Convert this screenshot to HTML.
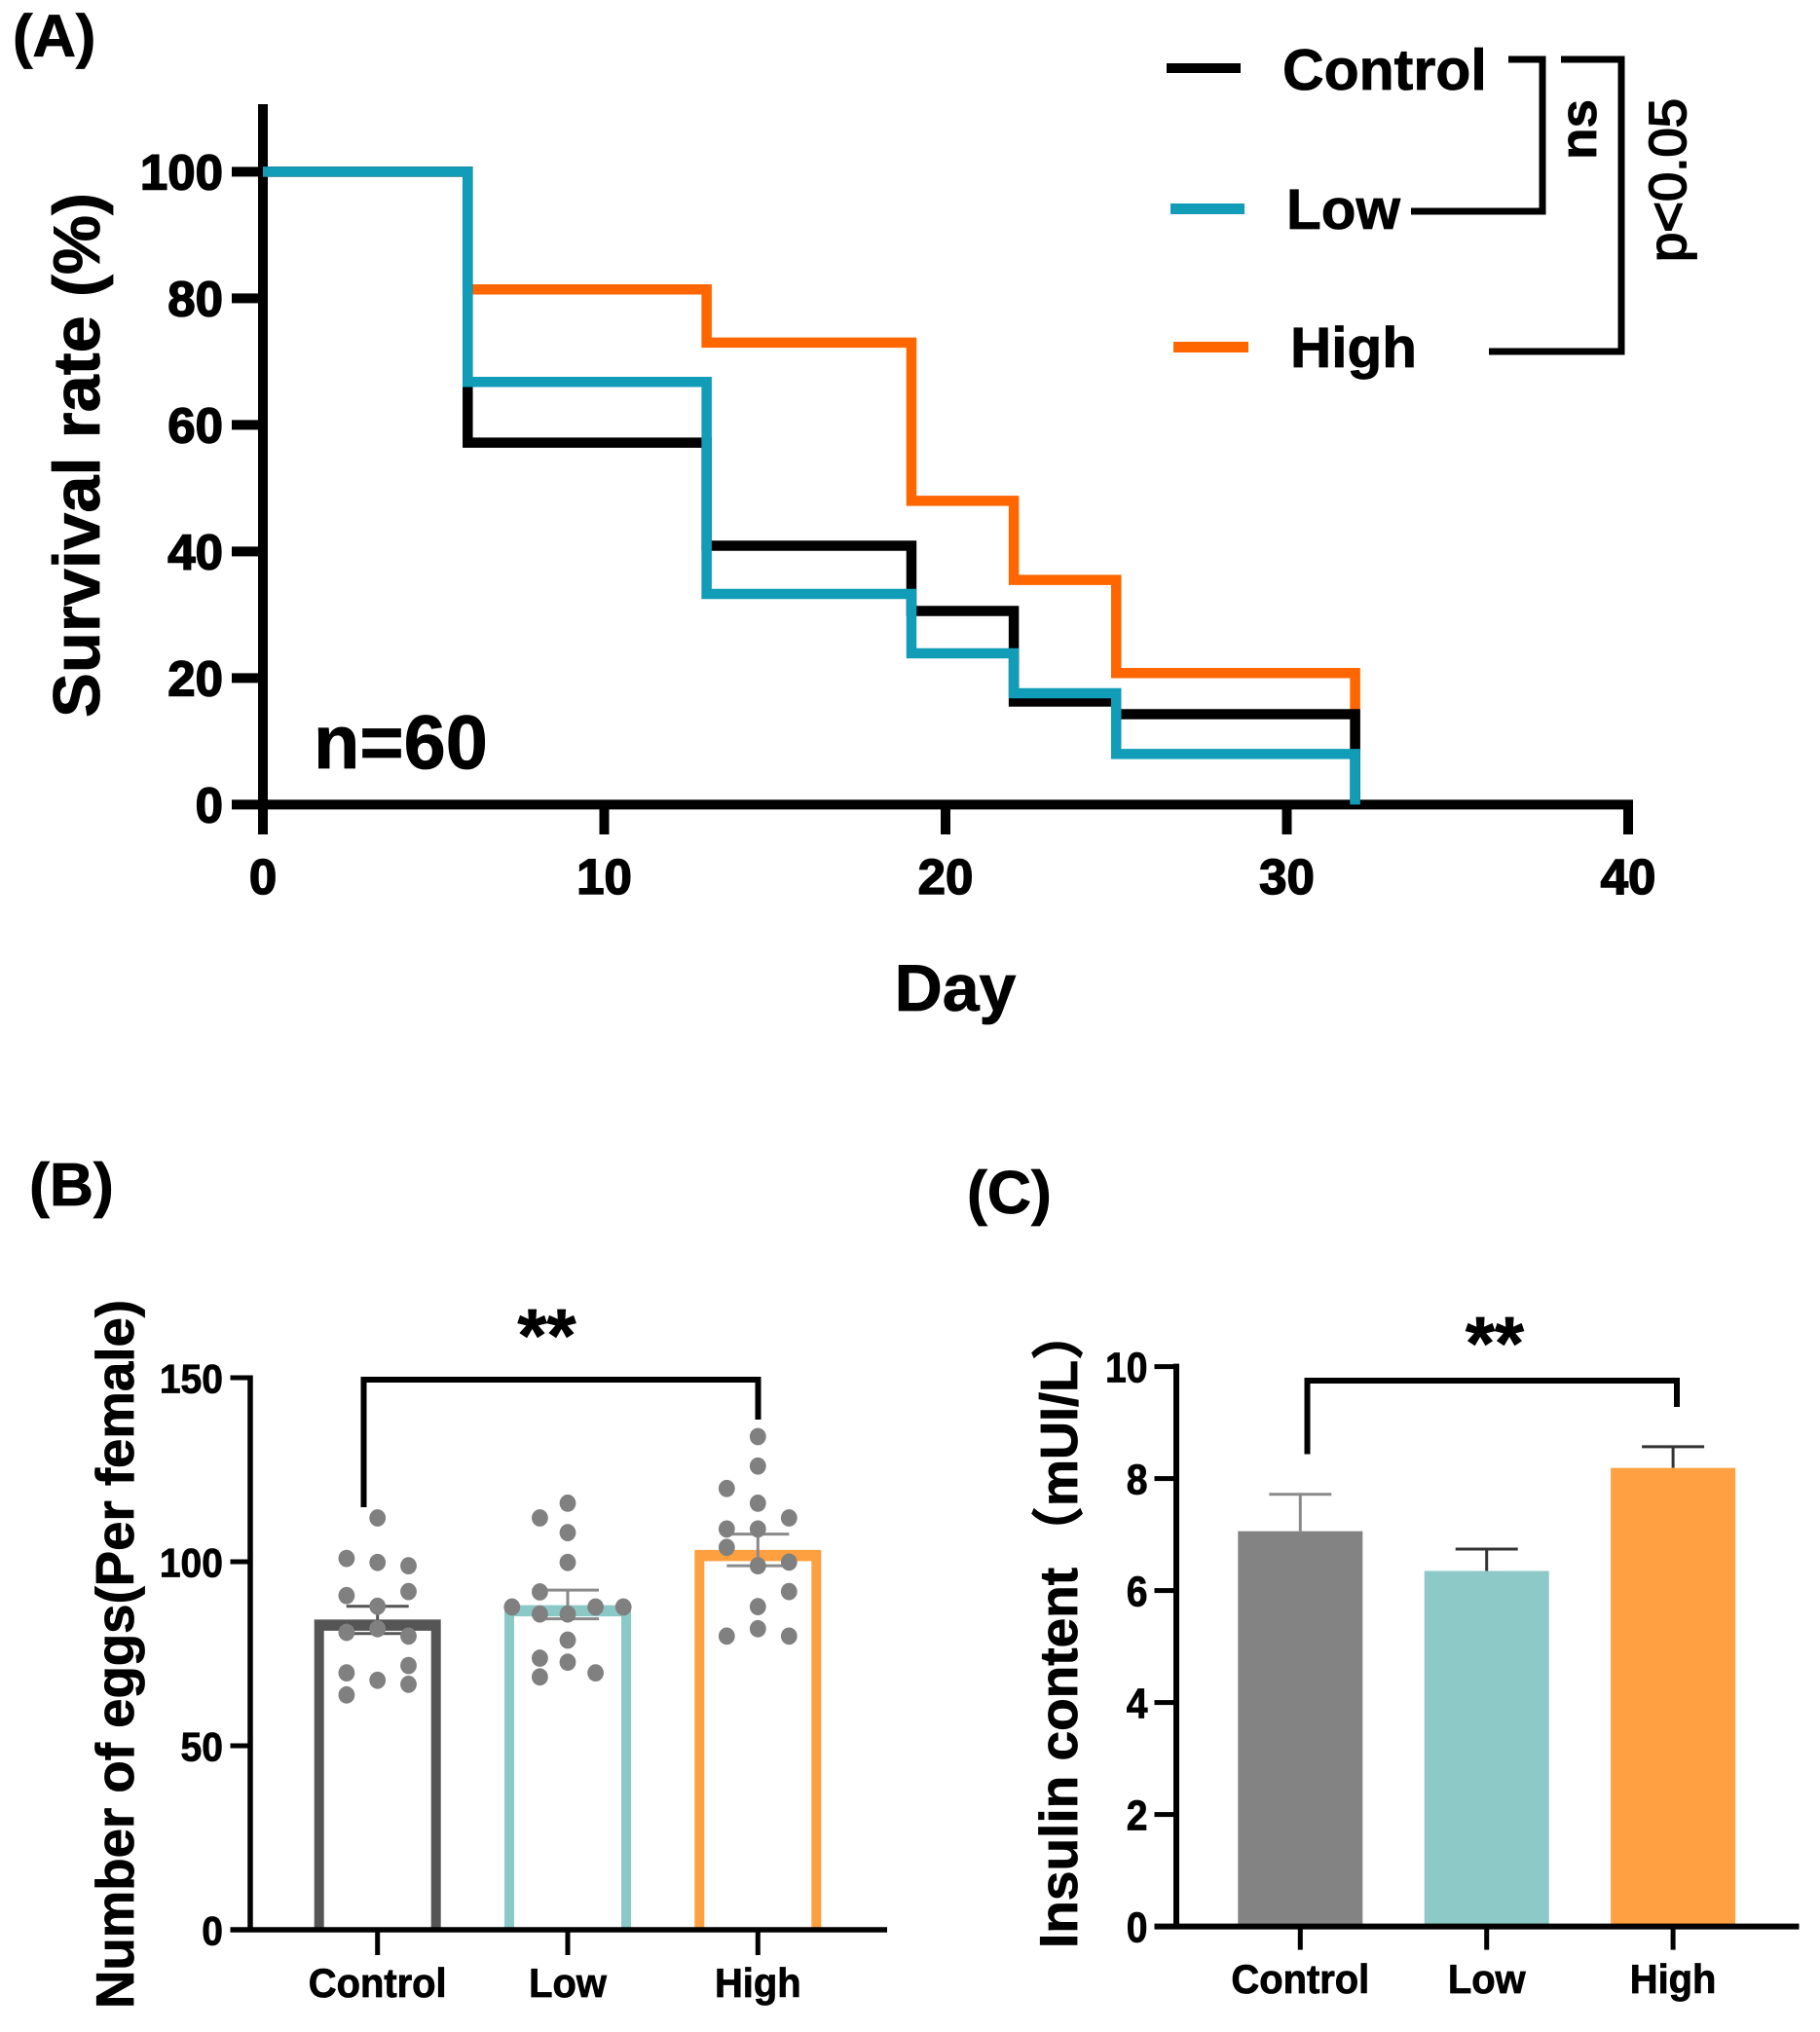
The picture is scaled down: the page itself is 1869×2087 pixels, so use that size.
<!DOCTYPE html>
<html lang="en">
<head>
<meta charset="utf-8">
<title>Survival, egg number and insulin content</title>
<style>
html,body{margin:0;padding:0;background:#fff;}
svg{display:block;}
text{font-family:"Liberation Sans","Noto Sans CJK SC",sans-serif;font-weight:700;fill:#000;stroke:#000;stroke-width:.8px;}
</style>
</head>
<body>
<svg id="figure" xmlns="http://www.w3.org/2000/svg" width="1869" height="2087" viewBox="0 0 1869 2087">
  <rect x="0" y="0" width="1869" height="2087" fill="#fff"/>

  <g id="panelA">
    <text x="13" y="58" font-size="61.5">(A)</text>
    <text transform="translate(102 737) rotate(-90)" font-size="68" textLength="539" lengthAdjust="spacingAndGlyphs">Survival rate (%)</text>
    <text x="981" y="1038" font-size="68" text-anchor="middle">Day</text>
    <text x="322" y="789" font-size="77.5">n=60</text>

    <g>
      <rect x="1198" y="65" width="76" height="10" fill="#000"/>
      <text x="1317" y="92" font-size="59">Control</text>
      <rect x="1202" y="209" width="76" height="11" fill="#119cb7"/>
      <text x="1321" y="235" font-size="58.5">Low</text>
      <rect x="1205" y="351" width="77" height="11" fill="#ff6600"/>
      <text x="1325" y="377" font-size="58.5">High</text>
    </g>

    <path d="M1549 61H1584V217H1449" fill="none" stroke="#000" stroke-width="7"/>
    <path d="M1603 61H1665V361H1529" fill="none" stroke="#000" stroke-width="7"/>
    <text transform="translate(1639 133) rotate(-90)" font-size="53" text-anchor="middle">ns</text>
    <text transform="translate(1731 185) rotate(-90)" font-size="54" text-anchor="middle" textLength="168" lengthAdjust="spacingAndGlyphs" style="font-weight:400;stroke:#000;stroke-width:1.8px">p&lt;0.05</text>
  </g>

  <g id="panelB">
    <text x="30" y="1238" font-size="62.5">(B)</text>
    <text transform="translate(137 2063) rotate(-90)" font-size="54.6" textLength="728" lengthAdjust="spacingAndGlyphs">Number of eggs(Per female)</text>
    <path d="M373.5 1548V1417H778.5V1458" fill="none" stroke="#000" stroke-width="6"/>
    <text x="561.5" y="1398" font-size="77" text-anchor="middle">**</text>
  </g>

  <g id="panelC">
    <text x="993" y="1246" font-size="62.5">(C)</text>
    <text transform="translate(1106 2001) rotate(-90)" font-size="55">Insulin content<tspan x="400" font-size="54">（mUI/L）</tspan></text>
    <path d="M1342.5 1493.5V1418H1722V1445" fill="none" stroke="#000" stroke-width="6"/>
    <text x="1535" y="1406" font-size="77" text-anchor="middle">**</text>
  </g>
</svg>

<script>
/* ---------- Panel A data ---------- */
const survivalDays = [0, 6, 13, 19, 22, 25, 32];
const survivalControl = [100, 57.2, 40.9, 30.6, 16.3, 14.3, 0];
const survivalLow = [100, 66.8, 33.3, 23.9, 17.6, 8, 0];
const survivalHigh = [100, 81.4, 73, 48, 35.5, 20.8, 0];
const survivalXTicks = [0, 10, 20, 30, 40];
const survivalYTicks = [0, 20, 40, 60, 80, 100];

/* ---------- Panel B data ---------- */
const groupLabels = ['Control', 'Low', 'High'];
const eggMeans = [84.3, 88.2, 103.2];
const eggErrorUpper = [87.9, 92.3, 107.5];
const eggErrorLower = [80.5, 84.5, 98.9];
const eggYTicks = [0, 50, 100, 150];
const eggsControlLeft = [100.9, 90.8, 80.8, 69.8, 63.8];
const eggsControlCenter = [111.9, 99.8, 87.9, 81.8, 67.8];
const eggsControlRight = [98.9, 91.9, 79.8, 71.8, 66.7];
const eggsLowFarLeft = [87.7];
const eggsLowLeft = [111.9, 91.8, 85.8, 73.8, 68.7];
const eggsLowCenter = [115.9, 107.9, 99.8, 85.8, 78.7, 72.7];
const eggsLowRight = [87.7, 69.8];
const eggsLowFarRight = [87.7];
const eggsHighLeft = [119.9, 108.9, 103.9, 79.8];
const eggsHighCenter = [134, 126, 115.9, 108.9, 98.9, 87.8, 81.8];
const eggsHighRight = [111.9, 99.9, 91.9, 79.8];

/* ---------- Panel C data ---------- */
const insulinMeans = [7.06, 6.35, 8.19];
const insulinErrorUpper = [7.72, 6.74, 8.57];
const insulinYTicks = [0, 2, 4, 6, 8, 10];

/* ---------- Axis functions ---------- */
function xA(d) { return 270 + d * 35.05; }
function yA(v) { return 826.4 - v * 6.5; }
function yB(v) { return 1982 - v * 3.78; }
function xB(i) { return 387.7 + i * 195.3; }
function yC(v) { return 1978.6 - v * 57.5; }
function xC(i) { return 1335.3 + i * 191.4; }

const SVGNS = 'http://www.w3.org/2000/svg';
function make(parent, tag, attrs) {
  const node = document.createElementNS(SVGNS, tag);
  for (const k in attrs) node.setAttribute(k, attrs[k]);
  parent.appendChild(node);
  return node;
}
const panelA = document.getElementById('panelA');
const panelB = document.getElementById('panelB');
const panelC = document.getElementById('panelC');

/* ---------- Panel A ---------- */
function stepPath(values) {
  let d = 'M' + xA(survivalDays[0]) + ' ' + yA(values[0]);
  for (let i = 1; i < survivalDays.length; i++) {
    d += 'H' + xA(survivalDays[i]) + 'V' + yA(values[i]);
  }
  return d;
}

{
  const axis = make(panelA, 'path', {
    d: 'M' + xA(0) + ' 107V857M238 ' + yA(0) + 'H' + (xA(40) + 5),
    fill: 'none', stroke: '#000', 'stroke-width': 10
  });
  
  
}
survivalYTicks.forEach(function (v) {
  if (v > 0) {
    const tick = make(panelA, 'rect', { x: 238, y: yA(v) - 5, width: 32, height: 10, fill: '#000' });
    
    
  }
  const label = make(panelA, 'text', { x: 229, y: yA(v) + 18, 'font-size': 51, 'text-anchor': 'end', style: 'stroke-width:1.5px' });
  label.textContent = String(v);
  
  
});
survivalXTicks.forEach(function (d) {
  const tick = make(panelA, 'rect', { x: xA(d) - 5, y: yA(0), width: 10, height: 857 - yA(0), fill: '#000' });
  
  
  const label = make(panelA, 'text', { x: xA(d), y: 918, 'font-size': 51, 'text-anchor': 'middle', style: 'stroke-width:1.5px' });
  label.textContent = String(d);
  
  
});

const lineHigh = make(panelA, 'path', { d: stepPath(survivalHigh), fill: 'none', stroke: '#ff6600', 'stroke-width': 10.5 });


const lineControl = make(panelA, 'path', { d: stepPath(survivalControl), fill: 'none', stroke: '#000', 'stroke-width': 10.5 });


const lineLow = make(panelA, 'path', { d: stepPath(survivalLow), fill: 'none', stroke: '#119cb7', 'stroke-width': 10.5 });



/* ---------- Panel B ---------- */
const eggBarColors = ['#555555', '#8bc9c6', '#ffa040'];
const eggErrorColors = ['#555555', '#8a8a8a', '#8a8a8a'];

eggMeans.forEach(function (v, i) {
  const cx = xB(i);
  const top = yB(v);
  const bottom = yB(0);
  const bar = make(panelB, 'path', {
    d: 'M' + (cx - 65) + ' ' + bottom + 'V' + top + 'H' + (cx + 65) + 'V' + bottom + 'H' + (cx + 55) +
       'V' + (top + 11.5) + 'H' + (cx - 55) + 'V' + bottom + 'Z',
    fill: eggBarColors[i]
  });
  
  
});

eggMeans.forEach(function (v, i) {
  const cx = xB(i);
  const err = make(panelB, 'path', {
    d: 'M' + cx + ' ' + yB(eggErrorUpper[i]) + 'V' + yB(eggErrorLower[i]) +
       'M' + (cx - 32) + ' ' + yB(eggErrorUpper[i]) + 'H' + (cx + 32) +
       'M' + (cx - 32) + ' ' + yB(eggErrorLower[i]) + 'H' + (cx + 32),
    fill: 'none', stroke: eggErrorColors[i], 'stroke-width': 3
  });
  
  
});

function drawEggColumn(values, group, column, spacing) {
  values.forEach(function (v) {
    const dot = make(panelB, 'ellipse', { cx: xB(group) + column * spacing, cy: yB(v), rx: 8.4, ry: 8.9, fill: '#808080' });
    
    
  });
}
drawEggColumn(eggsControlLeft, 0, -1, 31.8);
drawEggColumn(eggsControlCenter, 0, 0, 31.8);
drawEggColumn(eggsControlRight, 0, 1, 31.8);
drawEggColumn(eggsLowFarLeft, 1, -2, 28.6);
drawEggColumn(eggsLowLeft, 1, -1, 28.6);
drawEggColumn(eggsLowCenter, 1, 0, 28.6);
drawEggColumn(eggsLowRight, 1, 1, 28.6);
drawEggColumn(eggsLowFarRight, 1, 2, 28.6);
drawEggColumn(eggsHighLeft, 2, -1, 32);
drawEggColumn(eggsHighCenter, 2, 0, 32);
drawEggColumn(eggsHighRight, 2, 1, 32);

{
  const axis = make(panelB, 'path', {
    d: 'M257 ' + (yB(150) - 2.5) + 'V' + yB(0) + 'M236.5 ' + yB(0) + 'H911',
    fill: 'none', stroke: '#000', 'stroke-width': 5.5
  });
  
  
}
eggYTicks.forEach(function (v) {
  if (v > 0) {
    const tick = make(panelB, 'rect', { x: 236.5, y: yB(v) - 2.5, width: 20, height: 5, fill: '#000' });
    
    
  }
  const label = make(panelB, 'text', {
    transform: 'translate(229 ' + (yB(v) + 15.5) + ') scale(.93 1)',
    'font-size': 42, 'text-anchor': 'end'
  });
  label.textContent = String(v);
  
  
});
groupLabels.forEach(function (name, i) {
  const tick = make(panelB, 'rect', { x: xB(i) - 2.5, y: yB(0), width: 5, height: 26, fill: '#000' });
  
  
  const label = make(panelB, 'text', {
    transform: 'translate(' + xB(i) + ' 2051) scale(.95 1)',
    'font-size': 42, 'text-anchor': 'middle'
  });
  label.textContent = name;
  
  
});

/* ---------- Panel C ---------- */
const insulinBarColors = ['#838383', '#8cc9c7', '#ffa142'];
const insulinErrorColors = ['#8a8a8a', '#333333', '#333333'];

insulinMeans.forEach(function (v, i) {
  const cx = xC(i);
  const err = make(panelC, 'path', {
    d: 'M' + cx + ' ' + yC(v) + 'V' + yC(insulinErrorUpper[i]) +
       'M' + (cx - 32) + ' ' + yC(insulinErrorUpper[i]) + 'H' + (cx + 32),
    fill: 'none', stroke: insulinErrorColors[i], 'stroke-width': 3
  });
  
  
  const bar = make(panelC, 'rect', { x: cx - 64, y: yC(v), width: 128, height: yC(0) - yC(v), fill: insulinBarColors[i] });
  
  
});

{
  const axis = make(panelC, 'path', {
    d: 'M1208 ' + (yC(10) - 3) + 'V' + yC(0) + 'M1185.5 ' + yC(0) + 'H1847.5',
    fill: 'none', stroke: '#000', 'stroke-width': 6
  });
  
  
}
insulinYTicks.forEach(function (v) {
  if (v > 0) {
    const tick = make(panelC, 'rect', { x: 1185.5, y: yC(v) - 2.5, width: 22, height: 5, fill: '#000' });
    
    
  }
  const label = make(panelC, 'text', {
    transform: 'translate(1178.5 ' + (yC(v) + 16) + ') scale(.89 1)',
    'font-size': 44, 'text-anchor': 'end'
  });
  label.textContent = String(v);
  
  
});
groupLabels.forEach(function (name, i) {
  const tick = make(panelC, 'rect', { x: xC(i) - 2.5, y: yC(0), width: 5, height: 24, fill: '#000' });
  
  
  const label = make(panelC, 'text', {
    transform: 'translate(' + xC(i) + ' 2047) scale(.95 1)',
    'font-size': 42, 'text-anchor': 'middle'
  });
  label.textContent = name;
  
  
});
</script>
</body>
</html>
